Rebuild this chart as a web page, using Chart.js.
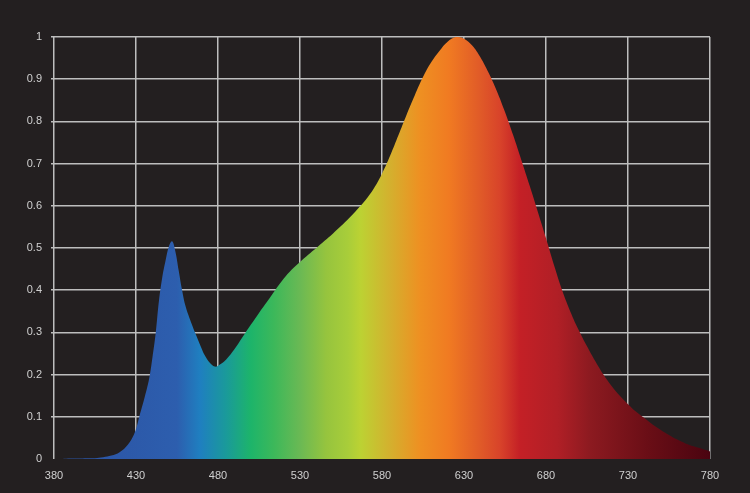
<!DOCTYPE html>
<html>
<head>
<meta charset="utf-8">
<script src="https://cdn.jsdelivr.net/npm/chart.js@4.4.1/dist/chart.umd.min.js"></script>
<style>
  html, body { margin: 0; padding: 0; background: #231f20; }
  #wrap { width: 750px; height: 493px; }
</style>
</head>
<body>
<div id="wrap"><canvas id="spectrumChart" width="750" height="493"></canvas></div>
<script>
// comprimentos de onda (nm) e intensidade relativa
var wavelengths = [380, 385, 390, 395, 400, 405, 410, 415, 420, 425, 428, 430, 432, 435, 438, 440, 442, 444, 446, 448, 450, 452, 454, 456, 458, 460, 463, 467, 470, 472, 475, 478, 480, 485, 490, 495, 500, 505, 510, 515, 520, 525, 530, 535, 540, 545, 550, 555, 560, 565, 570, 575, 580, 585, 590, 595, 600, 605, 610, 615, 620, 625, 630, 635, 640, 645, 650, 655, 660, 665, 670, 675, 680, 685, 690, 695, 700, 705, 710, 715, 720, 725, 730, 735, 740, 745, 750, 755, 760, 765, 770, 775, 780];
var intensity = [0, 0, 0.001, 0.001, 0.002, 0.002, 0.004, 0.008, 0.016, 0.034, 0.052, 0.071, 0.1, 0.142, 0.19, 0.24, 0.298, 0.375, 0.43, 0.47, 0.503, 0.516, 0.492, 0.447, 0.402, 0.365, 0.33, 0.29, 0.262, 0.245, 0.228, 0.219, 0.221, 0.236, 0.26, 0.289, 0.318, 0.346, 0.373, 0.401, 0.427, 0.449, 0.467, 0.484, 0.5, 0.517, 0.534, 0.552, 0.571, 0.592, 0.614, 0.641, 0.676, 0.719, 0.767, 0.816, 0.862, 0.905, 0.94, 0.967, 0.989, 1.0, 0.996, 0.98, 0.952, 0.915, 0.872, 0.822, 0.767, 0.708, 0.648, 0.586, 0.523, 0.458, 0.398, 0.348, 0.305, 0.267, 0.232, 0.2, 0.173, 0.15, 0.13, 0.112, 0.097, 0.082, 0.069, 0.057, 0.046, 0.037, 0.03, 0.024, 0.018];

// cores do espectro para o preenchimento
var stopNm = [380, 420, 455, 469, 485, 500, 514, 530, 546, 559, 567, 585, 603, 621, 640, 652, 664, 687, 707, 742, 780];
var stopColor = ["#2a52a3", "#2c58a8", "#2d5eae", "#1f7fc0", "#1a9a9a", "#1db46a", "#3cb85a", "#6ab954", "#96c43e", "#a8cd3a", "#bcd233", "#d4b02e", "#ee9022", "#f07a22", "#e05a28", "#d8432a", "#c42026", "#b01f26", "#8c1a20", "#6a0e16", "#4a0410"];

var textColor = "#d0d0d0";
var gridColor = "#bdbdbd";

function spectrumFill(context) {
    var chart = context.chart;
    var area = chart.chartArea;
    if (!area) {
        return "#2c58a8";
    }
    var x = chart.scales.x;
    var x0 = x.getPixelForValue(380);
    var x1 = x.getPixelForValue(780);
    var g = chart.ctx.createLinearGradient(x0, 0, x1, 0);
    stopNm.forEach(function (nm, i) {
        g.addColorStop((nm - 380) / 400, stopColor[i]);
    });
    return g;
}

var bgPlugin = {
    id: "bg",
    beforeDraw: function (chart) {
        var c = chart.ctx;
        c.save();
        c.fillStyle = "#231f20";
        c.fillRect(0, 0, chart.width, chart.height);
        c.restore();
    }
};

function setupChart() {
    var el = document.getElementById("spectrumChart");
    new Chart(el, {
        type: "line",
        data: {
            datasets: [{
                data: wavelengths.map(function (w, i) { return { x: w, y: intensity[i] }; }),
                fill: "origin",
                backgroundColor: spectrumFill,
                borderWidth: 0,
                pointRadius: 0,
                tension: 0.4
            }]
        },
        options: {
            responsive: false,
            animation: false,
            layout: { padding: { top: 37, right: 40, left: 0, bottom: 0 } },
            plugins: { legend: { display: false }, tooltip: { enabled: false } },
            scales: {
                x: {
                    type: "linear",
                    min: 380,
                    max: 780,
                    border: { display: false },
                    grid: { color: gridColor, lineWidth: 1.5, drawTicks: false },
                    ticks: {
                        stepSize: 50,
                        color: textColor,
                        padding: 10,
                        maxRotation: 0,
                        font: { family: "'Liberation Sans', Arial, sans-serif", size: 11 }
                    },
                    afterFit: function (scale) { scale.height = 34; }
                },
                y: {
                    min: 0,
                    max: 1,
                    border: { display: false },
                    grid: {
                        color: function (ctx) { return ctx.tick && ctx.tick.value === 0 ? "rgba(0,0,0,0)" : gridColor; },
                        lineWidth: 1.5,
                        tickLength: 3
                    },
                    ticks: {
                        stepSize: 0.1,
                        color: textColor,
                        padding: 9,
                        font: { family: "'Liberation Sans', Arial, sans-serif", size: 11 },
                        callback: function (v) { return String(Number(v.toFixed(1))); }
                    },
                    afterFit: function (scale) { scale.width = 54; }
                }
            }
        },
        plugins: [bgPlugin]
    });
}

window.addEventListener("load", setupChart);
</script>
</body>
</html>
